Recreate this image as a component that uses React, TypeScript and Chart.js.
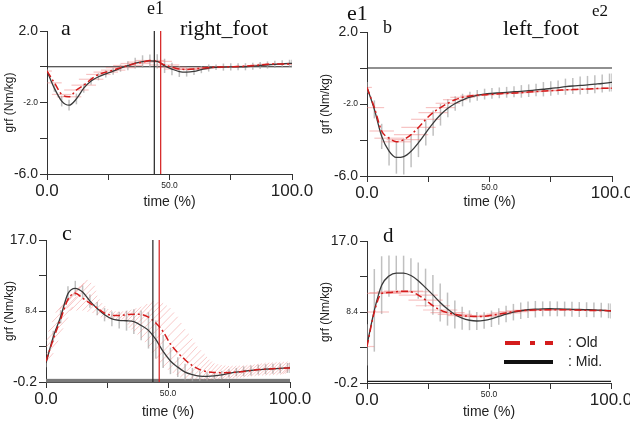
import React, { useEffect, useRef } from 'react';
import { Chart, registerables } from 'chart.js';
Chart.register(...registerables);

// ---------------- data ----------------
const timePct = [0, 3, 6, 9, 12, 15, 18, 21, 24, 27, 30, 33, 36, 39, 42, 45, 48, 51, 54, 57, 60, 63, 66, 69, 72, 75, 78, 81, 84, 87, 90, 93, 96, 99, 100];

// a: right foot, top
const aMid = [-0.24, -1.2, -1.92, -2.15, -1.8, -1.2, -0.8, -0.56, -0.4, -0.25, -0.08, 0.06, 0.2, 0.29, 0.33, 0.3, 0.05, -0.13, -0.27, -0.3, -0.26, -0.16, -0.07, -0.03, -0.02, -0.01, 0, 0, 0.03, 0.07, 0.1, 0.13, 0.16, 0.19, 0.19];
const aMidErr = [0.1, 0.2, 0.3, 0.3, 0.3, 0.25, 0.2, 0.2, 0.2, 0.2, 0.2, 0.25, 0.3, 0.35, 0.35, 0.4, 0.4, 0.35, 0.3, 0.25, 0.2, 0.2, 0.2, 0.15, 0.2, 0.2, 0.2, 0.2, 0.2, 0.2, 0.2, 0.2, 0.2, 0.2, 0.2];
const aOld = [-0.24, -0.9, -1.55, -1.68, -1.3, -1.03, -0.7, -0.43, -0.3, -0.19, -0.05, 0.07, 0.18, 0.26, 0.35, 0.3, 0.1, -0.03, -0.13, -0.15, -0.13, -0.08, -0.05, -0.02, -0.01, 0, 0.01, 0.03, 0.06, 0.1, 0.14, 0.15, 0.16, 0.15, 0.15];
const aOldErr = [2, 3, 4, 5, 5, 5, 5, 5, 5, 5, 6, 6, 6, 6, 6, 6, 6, 6, 6, 6, 6, 5, 5, 5, 4, 4, 4, 4, 4, 4, 4, 4, 4, 3, 2];

// b: left foot, top
const bMid = [-1.08, -2.3, -3.8, -4.62, -4.97, -4.92, -4.62, -4.15, -3.6, -3.06, -2.6, -2.24, -1.97, -1.78, -1.62, -1.52, -1.45, -1.41, -1.38, -1.35, -1.32, -1.3, -1.26, -1.22, -1.18, -1.14, -1.09, -1.04, -1.0, -0.97, -0.94, -0.9, -0.86, -0.81, -0.8];
const bMidErr = [0.3, 0.5, 0.7, 0.8, 0.9, 1.0, 0.9, 0.8, 0.7, 0.7, 0.6, 0.5, 0.4, 0.35, 0.3, 0.3, 0.3, 0.3, 0.3, 0.3, 0.3, 0.35, 0.35, 0.35, 0.4, 0.4, 0.4, 0.45, 0.45, 0.5, 0.5, 0.5, 0.5, 0.5, 0.5];
const bOld = [-1.08, -2.2, -3.5, -3.9, -4.1, -3.98, -3.7, -3.3, -2.85, -2.48, -2.2, -1.96, -1.76, -1.63, -1.56, -1.51, -1.49, -1.46, -1.43, -1.41, -1.39, -1.37, -1.34, -1.31, -1.28, -1.26, -1.24, -1.21, -1.2, -1.18, -1.17, -1.15, -1.13, -1.12, -1.12];
const bOldErr = [2, 4, 5, 6, 6, 7, 7, 7, 6, 6, 6, 5, 5, 5, 4, 4, 4, 4, 4, 4, 3, 3, 3, 3, 3, 3, 3, 3, 3, 3, 3, 3, 3, 3, 2];

// c: right foot, bottom
const cMid = [2.1, 5.3, 7.7, 10.5, 11.15, 10.7, 9.6, 8.7, 7.95, 7.45, 7.27, 7.22, 7.1, 6.65, 6.05, 4.95, 3.5, 2.35, 1.6, 1.0, 0.7, 0.52, 0.48, 0.53, 0.65, 0.85, 1.0, 1.1, 1.2, 1.3, 1.35, 1.4, 1.45, 1.5, 1.5];
const cMidErr = [0.5, 0.7, 0.8, 0.9, 0.9, 0.8, 0.8, 0.8, 0.8, 0.9, 1.0, 1.2, 1.5, 1.8, 2.2, 2.3, 2.0, 1.6, 1.2, 1.0, 0.8, 0.6, 0.5, 0.5, 0.5, 0.5, 0.5, 0.6, 0.6, 0.6, 0.6, 0.6, 0.6, 0.6, 0.6];
const cOld = [2.3, 5.0, 7.4, 9.8, 10.56, 9.95, 9.35, 8.75, 8.14, 7.88, 7.85, 7.95, 8.02, 7.98, 7.65, 6.95, 5.9, 4.4, 3.35, 2.5, 1.78, 1.3, 1.05, 0.95, 0.93, 0.95, 0.99, 1.07, 1.18, 1.3, 1.36, 1.41, 1.45, 1.5, 1.5];
const cOldErrX = [3, 4, 5, 5, 5, 5, 3, 2, 1.5, 1.5, 1.5, 2, 3, 5, 6, 6, 6, 6, 6, 5, 5, 4, 3, 3, 3, 3, 3, 3, 3, 3, 3, 3, 3, 3, 2];
const cOldErrY = [1.0, 1.3, 1.5, 1.6, 1.6, 1.5, 0.9, 0.6, 0.5, 0.5, 0.5, 0.6, 0.9, 1.6, 1.7, 1.8, 1.8, 1.8, 1.7, 1.6, 1.4, 1.2, 1.0, 0.9, 0.8, 0.8, 0.8, 0.8, 0.8, 0.8, 0.8, 0.8, 0.8, 0.8, 0.7];

// d: left foot, bottom
const dMid = [4.42, 8.6, 11.65, 12.75, 13.12, 13.12, 12.82, 12.2, 11.35, 10.47, 9.55, 8.75, 8.1, 7.65, 7.4, 7.31, 7.38, 7.58, 7.86, 8.15, 8.38, 8.55, 8.67, 8.74, 8.78, 8.8, 8.78, 8.76, 8.73, 8.7, 8.68, 8.66, 8.62, 8.55, 8.52];
const dMidErr = [2.5, 5, 3.5, 2.5, 2.1, 2.1, 2.1, 2.2, 2.3, 2.4, 2.3, 2.0, 1.7, 1.4, 1.2, 1.1, 1.0, 1.0, 1.0, 1.0, 1.0, 1.0, 1.0, 1.0, 0.9, 0.9, 0.9, 0.9, 0.9, 0.9, 0.9, 0.9, 0.9, 0.9, 0.9];
const dOld = [4.22, 8.4, 10.65, 10.75, 10.85, 10.92, 10.85, 10.45, 9.85, 9.16, 8.64, 8.32, 8.12, 7.97, 7.88, 7.84, 7.88, 8.0, 8.14, 8.29, 8.44, 8.54, 8.61, 8.64, 8.66, 8.68, 8.68, 8.68, 8.66, 8.63, 8.6, 8.59, 8.58, 8.56, 8.56];
const dOldErr = [3, 6, 8, 8, 8, 8, 8, 8, 7, 7, 7, 7, 7, 6, 6, 5, 5, 5, 5, 6, 6, 6, 6, 6, 5, 5, 5, 5, 5, 5, 5, 5, 5, 4, 3];

const xTickValues = [0, 25, 50, 75, 100];
const xTickLabels = ['0.0', '', '50.0', '', '100.0'];
const yTickValuesTop = [2, 0, -2, -4, -6];
const yTickLabelsTop = ['2.0', '', '-2.0', '', '-6.0'];
const yTickValuesBottom = [17, 12.7, 8.4, 4.1, -0.2];
const yTickLabelsBottom = ['17.0', '', '8.4', '', '-0.2'];
const eventMidPct = 43.8;
const eventOldPct = 46.4;
const seriesNames = ['Old', 'Mid.'];
const legendLabels = [': Old', ': Mid.'];
const yTitle = 'grf (Nm/kg)';
const xTitle = 'time (%)';

// ---------------- styling / layout ----------------
const SANS = '"Liberation Sans", Arial, Helvetica, sans-serif';
const SERIF = '"Liberation Serif", "Times New Roman", "DejaVu Serif", serif';
const RED = '#d41c1c';
const DARK = '#333333';

type Txt = { text: string; x: number; y: number; size: number };
type Spec = {
  left: number; top: number; width: number; height: number;
  area: { l: number; t: number; r: number; b: number };
  mid: number[]; midErr: number[]; old: number[]; oldErrX: number[]; oldErrY?: number[];
  yMin: number; yMax: number; yTicks: number[]; yLabels: string[];
  zero: 'line' | 'band'; events: boolean; legend: boolean; texts: Txt[];
  xTitlePad: number; yTitlePad: number;
};

const panels: Spec[] = [
  {
    left: 0, top: 0, width: 315, height: 210, area: { l: 47, t: 31, r: 292, b: 174 },
    mid: aMid, midErr: aMidErr, old: aOld, oldErrX: aOldErr,
    yMin: -6, yMax: 2, yTicks: yTickValuesTop, yLabels: yTickLabelsTop,
    zero: 'line', events: true, legend: false,
    texts: [
      { text: 'e1', x: 147, y: 14, size: 18 },
      { text: 'a', x: 61, y: 35, size: 22 },
      { text: 'right_foot', x: 180, y: 35, size: 22 },
    ],
    xTitlePad: -1, yTitlePad: 2,
  },
  {
    left: 315, top: 0, width: 330, height: 210, area: { l: 52, t: 32, r: 297, b: 176 },
    mid: bMid, midErr: bMidErr, old: bOld, oldErrX: bOldErr,
    yMin: -6, yMax: 2, yTicks: yTickValuesTop, yLabels: yTickLabelsTop,
    zero: 'line', events: false, legend: false,
    texts: [
      { text: 'e1', x: 32, y: 20, size: 22 },
      { text: 'b', x: 68, y: 33, size: 18 },
      { text: 'left_foot', x: 188, y: 35, size: 22 },
      { text: 'e2', x: 277, y: 16, size: 17 },
    ],
    xTitlePad: -1, yTitlePad: 3,
  },
  {
    left: 0, top: 210, width: 315, height: 211, area: { l: 46, t: 30, r: 290, b: 172 },
    mid: cMid, midErr: cMidErr, old: cOld, oldErrX: cOldErrX, oldErrY: cOldErrY,
    yMin: -0.2, yMax: 17, yTicks: yTickValuesBottom, yLabels: yTickLabelsBottom,
    zero: 'band', events: true, legend: false,
    texts: [{ text: 'c', x: 62, y: 30, size: 22 }],
    xTitlePad: 0, yTitlePad: 2,
  },
  {
    left: 315, top: 210, width: 330, height: 211, area: { l: 52, t: 31, r: 296, b: 173 },
    mid: dMid, midErr: dMidErr, old: dOld, oldErrX: dOldErr,
    yMin: -0.2, yMax: 17, yTicks: yTickValuesBottom, yLabels: yTickLabelsBottom,
    zero: 'line', events: false, legend: true,
    texts: [{ text: 'd', x: 68, y: 32, size: 21 }],
    xTitlePad: 0, yTitlePad: 3,
  },
];

function seg(ctx: CanvasRenderingContext2D, x1: number, y1: number, x2: number, y2: number) {
  ctx.beginPath();
  ctx.moveTo(x1, y1);
  ctx.lineTo(x2, y2);
  ctx.stroke();
}

const decor = {
  id: 'decor',
  beforeDatasetsDraw(chart: any, _a: any, opts: any) {
    const s: Spec = opts.spec;
    const { ctx, chartArea: ca } = chart;
    const x = chart.scales.x, y = chart.scales.y;
    ctx.save();
    // reference line at zero
    if (s.zero === 'line') {
      ctx.strokeStyle = '#222';
      ctx.lineWidth = 1.2;
      const py = y.getPixelForValue(0);
      seg(ctx, ca.left, py, ca.right, py);
    } else {
      const py = y.getPixelForValue(0);
      ctx.fillStyle = '#7a7a7a';
      ctx.fillRect(ca.left, py - 1.5, ca.right - ca.left, ca.bottom - py + 2);
    }
    ctx.beginPath();
    ctx.rect(ca.left, ca.top - 20, ca.right - ca.left, ca.bottom - ca.top + 20);
    ctx.clip();
    // Mid error bars (vertical)
    ctx.strokeStyle = 'rgba(165,165,165,0.7)';
    ctx.lineWidth = 1.5;
    s.mid.forEach((v, i) => {
      const px = x.getPixelForValue(timePct[i]);
      seg(ctx, px, y.getPixelForValue(v - s.midErr[i]), px, y.getPixelForValue(v + s.midErr[i]));
    });
    // Old error
    if (s.oldErrY) {
      ctx.strokeStyle = 'rgba(238,120,120,0.4)';
      ctx.lineWidth = 1;
      const ey = s.oldErrY;
      const stroke = (tx: number, v: number, ex: number, eyv: number) => {
        seg(ctx, x.getPixelForValue(tx - ex), y.getPixelForValue(v - eyv), x.getPixelForValue(tx + ex), y.getPixelForValue(v + eyv));
      };
      s.old.forEach((v, i) => {
        stroke(timePct[i], v, s.oldErrX[i], ey[i]);
        if (i < s.old.length - 1) {
          stroke((timePct[i] + timePct[i + 1]) / 2, (v + s.old[i + 1]) / 2, (s.oldErrX[i] + s.oldErrX[i + 1]) / 2, (ey[i] + ey[i + 1]) / 2);
        }
      });
    } else {
      ctx.strokeStyle = 'rgba(238,125,125,0.45)';
      ctx.lineWidth = 1.2;
      s.old.forEach((v, i) => {
        const py = y.getPixelForValue(v);
        seg(ctx, x.getPixelForValue(timePct[i] - s.oldErrX[i]), py, x.getPixelForValue(timePct[i] + s.oldErrX[i]), py);
      });
    }
    ctx.restore();
  },
  afterDatasetsDraw(chart: any, _a: any, opts: any) {
    const s: Spec = opts.spec;
    const { ctx, chartArea: ca } = chart;
    const x = chart.scales.x;
    ctx.save();
    if (s.events) {
      ctx.lineWidth = 1.2;
      ctx.strokeStyle = '#222';
      const pm = x.getPixelForValue(eventMidPct);
      seg(ctx, pm, ca.top, pm, ca.bottom);
      ctx.strokeStyle = RED;
      const po = x.getPixelForValue(eventOldPct);
      seg(ctx, po, ca.top, po, ca.bottom);
    }
    ctx.fillStyle = '#111';
    ctx.textBaseline = 'alphabetic';
    ctx.textAlign = 'left';
    s.texts.forEach((t) => {
      ctx.font = `${t.size}px ${SERIF}`;
      ctx.fillText(t.text, t.x, t.y);
    });
    if (s.legend) {
      const x1 = 190, x2 = 238, y1 = 133, y2 = 152;
      ctx.lineWidth = 4;
      ctx.strokeStyle = RED;
      ctx.setLineDash([15, 10, 5, 10]);
      seg(ctx, x1, y1, x2, y1);
      ctx.setLineDash([]);
      ctx.strokeStyle = '#111';
      seg(ctx, x1 - 1, y2, x2, y2);
      ctx.font = `14px ${SANS}`;
      ctx.fillStyle = '#222';
      ctx.textBaseline = 'middle';
      ctx.fillText(legendLabels[0], 253, y1);
      ctx.fillText(legendLabels[1], 253, y2);
    }
    ctx.restore();
  },
};

function buildConfig(s: Spec): any {
  return {
    type: 'line',
    data: {
      datasets: [
        {
          label: seriesNames[0],
          data: s.old.map((v, i) => ({ x: timePct[i], y: v })),
          borderColor: RED, borderWidth: 1.5, borderDash: [7, 3, 2, 3],
          pointRadius: 0, cubicInterpolationMode: 'monotone', fill: false,
        },
        {
          label: seriesNames[1],
          data: s.mid.map((v, i) => ({ x: timePct[i], y: v })),
          borderColor: '#3a3a3a', borderWidth: 1.3,
          pointRadius: 0, cubicInterpolationMode: 'monotone', fill: false,
        },
      ],
    },
    options: {
      responsive: false,
      animation: false,
      devicePixelRatio: 1,
      events: [],
      layout: { padding: { left: 0, top: s.area.t, right: s.width - s.area.r, bottom: 0 } },
      plugins: { legend: { display: false }, tooltip: { enabled: false }, decor: { spec: s } },
      scales: {
        x: {
          type: 'linear', min: 0, max: 100,
          afterFit: (sc: any) => { sc.height = s.height - s.area.b; },
          afterBuildTicks: (sc: any) => { sc.ticks = xTickValues.map((v) => ({ value: v })); },
          ticks: {
            autoSkip: false, maxRotation: 0, padding: 1, color: '#222',
            callback: (_v: any, i: number) => xTickLabels[i],
            font: (c: any) => ({ family: SANS, size: c.index === 2 ? 8.5 : 17 }),
          },
          grid: { drawOnChartArea: false, drawTicks: true, tickLength: 6, color: DARK },
          border: { display: true, color: DARK, width: 1 },
          title: { display: true, text: xTitle, color: '#222', font: { family: SANS, size: 14 }, padding: { top: 0, bottom: s.xTitlePad } },
        },
        y: {
          type: 'linear', min: s.yMin, max: s.yMax,
          afterFit: (sc: any) => { sc.width = s.area.l; },
          afterBuildTicks: (sc: any) => { sc.ticks = s.yTicks.map((v) => ({ value: v })); },
          ticks: {
            autoSkip: false, padding: 2, color: '#222',
            callback: (_v: any, i: number) => s.yLabels[i],
            font: (c: any) => ({ family: SANS, size: c.index === 2 ? 8.5 : 14 }),
          },
          grid: { drawOnChartArea: false, drawTicks: true, tickLength: 7, color: DARK },
          border: { display: true, color: DARK, width: 1 },
          title: { display: true, text: yTitle, color: '#222', font: { family: SANS, size: 12 }, padding: { top: s.yTitlePad, bottom: 0 } },
        },
      },
    },
    plugins: [decor],
  };
}

export default function App() {
  const r0 = useRef<HTMLCanvasElement>(null);
  const r1 = useRef<HTMLCanvasElement>(null);
  const r2 = useRef<HTMLCanvasElement>(null);
  const r3 = useRef<HTMLCanvasElement>(null);
  const refs = [r0, r1, r2, r3];
  useEffect(() => {
    const charts = panels.map((p, i) => new Chart(refs[i].current as HTMLCanvasElement, buildConfig(p)));
    return () => charts.forEach((c) => c.destroy());
  }, []);
  return (
    <div style={{ position: 'fixed', left: 0, top: 0, width: 630, height: 421, background: '#fff', overflow: 'hidden' }}>
      {panels.map((p, i) => (
        <canvas
          key={i}
          ref={refs[i]}
          width={p.width}
          height={p.height}
          style={{ position: 'absolute', left: p.left, top: p.top, width: p.width, height: p.height }}
        />
      ))}
    </div>
  );
}
